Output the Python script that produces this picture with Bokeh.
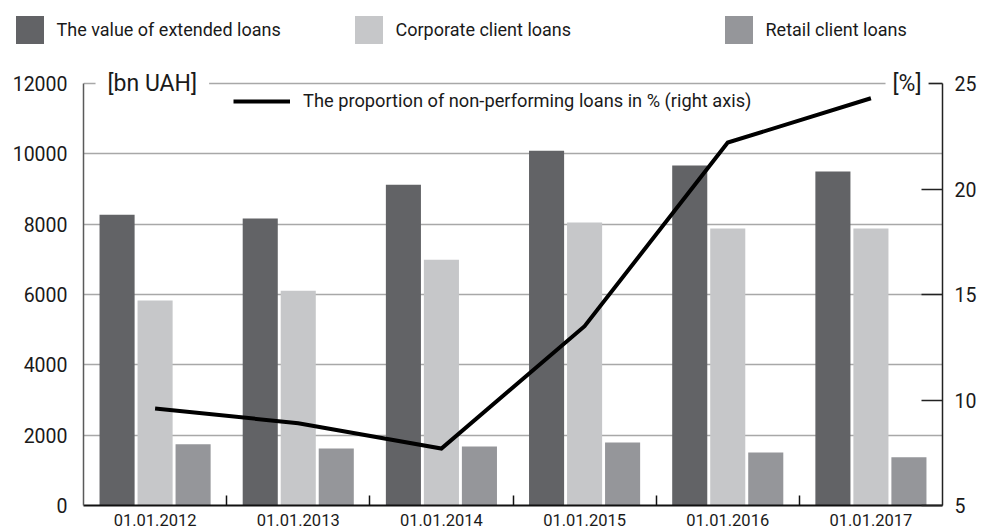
from bokeh.plotting import figure
from bokeh.models import (ColumnDataSource, Range1d, LinearAxis, FixedTicker,
                          Legend, LegendItem, Label)
from bokeh.layouts import column
from bokeh.transform import dodge
from bokeh.embed import file_html
from bokeh.resources import INLINE

# ---- data ----
dates = ["01.01.2012", "01.01.2013", "01.01.2014", "01.01.2015", "01.01.2016", "01.01.2017"]
extended = [8270, 8160, 9120, 10090, 9665, 9495]
corporate = [5830, 6110, 6990, 8050, 7875, 7875]
retail = [1740, 1620, 1680, 1790, 1510, 1370]
npl = [9.6, 8.9, 7.7, 13.5, 22.2, 24.3]
left_ticks = [0, 2000, 4000, 6000, 8000, 10000, 12000]
right_ticks = [5, 10, 15, 20, 25]

series_names = ["The value of extended loans", "Corporate client loans", "Retail client loans"]
line_name = "The proportion of non-performing loans in % (right axis)"

C_DARK = "#626366"
C_LIGHT = "#c6c7c9"
C_MID = "#95969a"
FONT = "Roboto"

# ---- layout constants (pixels) ----
W = 982
TOP_H = 50           # legend strip
MAIN_H = 482
BORDER_BOTTOM = 27
FRAME_H = MAIN_H - BORDER_BOTTOM
AXIS_TOP_GAP = 33    # space inside frame above the top tick
AXIS_H = FRAME_H - AXIS_TOP_GAP

n = len(dates)
centers = [i + 0.5 for i in range(n)]
src = ColumnDataSource(dict(x=centers, extended=extended, corporate=corporate,
                            retail=retail, npl=npl))


def mk_legend(plot, label, rend, loc, gw, gh, standoff, fsize):
    lg = Legend(items=[LegendItem(label=label, renderers=[rend])], location=loc,
                orientation="horizontal", glyph_width=gw, glyph_height=gh,
                label_standoff=standoff, padding=0, margin=0, spacing=0,
                border_line_color=None, background_fill_alpha=0,
                label_text_font=FONT, label_text_font_size=fsize,
                label_text_color="#1a1a1a", label_height=gh)
    plot.add_layout(lg, "center")


# ===== top legend strip =====
top = figure(width=W, height=TOP_H, output_backend="svg", toolbar_location=None,
             x_range=Range1d(0, 1), y_range=Range1d(0, 1),
             x_axis_location=None, y_axis_location=None,
             min_border_left=0, min_border_right=0, min_border_top=0, min_border_bottom=0)
top.frame_align = False
top.outline_line_color = None
top.xgrid.visible = False
top.ygrid.visible = False
t_rs = []
for col, c in zip(("extended", "corporate", "retail"), (C_DARK, C_LIGHT, C_MID)):
    r = top.vbar(x="x", top=col, width=0.1, source=src, fill_color=c, line_color=None)
    r.visible = False   # only its legend swatch is shown in this strip
    t_rs.append(r)

for name, r, vx in zip(series_names, t_rs, (11.5, 350.5, 720.5)):
    mk_legend(top, name, r, (vx, 3.5), 35, 35, 10, "18px")

# ===== main chart =====
y_end = left_ticks[-1] * FRAME_H / AXIS_H
pct_end = right_ticks[0] + (right_ticks[-1] - right_ticks[0]) * FRAME_H / AXIS_H

p = figure(width=W, height=MAIN_H, output_backend="svg", toolbar_location=None,
           x_range=Range1d(0, n), y_range=Range1d(left_ticks[0], y_end),
           min_border_left=83, min_border_right=40, min_border_top=0,
           min_border_bottom=BORDER_BOTTOM)
p.frame_align = False
p.outline_line_color = None
p.extra_y_ranges = {"pct": Range1d(right_ticks[0], pct_end)}

bw = 0.245
off = 0.2655
r_ext = p.vbar(x=dodge("x", -off, range=p.x_range), top="extended", width=bw,
               source=src, fill_color=C_DARK, line_color=None)
r_cor = p.vbar(x=dodge("x", 0.0, range=p.x_range), top="corporate", width=bw,
               source=src, fill_color=C_LIGHT, line_color=None)
r_ret = p.vbar(x=dodge("x", off, range=p.x_range), top="retail", width=bw,
               source=src, fill_color=C_MID, line_color=None)

r_line = p.line(x="x", y="npl", source=src, y_range_name="pct",
                line_color="black", line_width=4, line_join="miter")

# x axis
xax = p.below[0]
xax.ticker = FixedTicker(ticks=centers, minor_ticks=list(range(1, n)))
xax.major_label_overrides = {c: d for c, d in zip(centers, dates)}
xax.major_tick_in = 0
xax.major_tick_out = 0
xax.minor_tick_in = 10
xax.minor_tick_out = 0
xax.minor_tick_line_color = "#111111"
xax.minor_tick_line_width = 1.5
xax.axis_line_color = "#111111"
xax.axis_line_width = 2
xax.major_label_standoff = 8
xax.major_label_text_font = FONT
xax.major_label_text_font_size = "16.5px"
xax.major_label_text_color = "#1a1a1a"

# left axis
yax = p.left[0]
yax.ticker = FixedTicker(ticks=left_ticks)
yax.bounds = (left_ticks[0], left_ticks[-1])
yax.major_tick_in = 0
yax.major_tick_out = 0
yax.minor_tick_line_color = None
yax.axis_line_color = "#5a5a5a"
yax.axis_line_width = 1.5
yax.major_label_standoff = 16
yax.major_label_text_font = FONT
yax.major_label_text_font_size = "19.5px"
yax.major_label_text_color = "#1a1a1a"

# right axis
rax = LinearAxis(y_range_name="pct", ticker=FixedTicker(ticks=right_ticks),
                 bounds=(right_ticks[0], right_ticks[-1]))
rax.major_tick_in = 21
rax.major_tick_out = 0
rax.major_tick_line_color = "#222222"
rax.major_tick_line_width = 1.5
rax.minor_tick_line_color = None
rax.axis_line_color = "#222222"
rax.axis_line_width = 1.5
rax.major_label_standoff = 12
rax.major_label_text_font = FONT
rax.major_label_text_font_size = "19.5px"
rax.major_label_text_color = "#1a1a1a"
p.add_layout(rax, "right")

p.xgrid.visible = False
p.ygrid.grid_line_color = "#a8a8a8"
p.ygrid.grid_line_width = 1.5

# unit labels breaking the top gridline
p.add_layout(Label(x=0.084, y=left_ticks[-1], text="[bn UAH]", text_font=FONT,
                   text_font_size="23px", text_color="#1a1a1a", text_baseline="middle",
                   background_fill_color="white", padding=12))
p.add_layout(Label(x=5.602, y=left_ticks[-1], text="[%]", text_font=FONT,
                   text_font_size="23px", text_color="#1a1a1a", text_baseline="middle",
                   background_fill_color="white", padding=7))

mk_legend(p, line_name, r_line, (150, FRAME_H - 61), 57, 20, 13, "18.25px")

layout = column(top, p, spacing=0)
open("out.html", "w").write(file_html(layout, INLINE))
